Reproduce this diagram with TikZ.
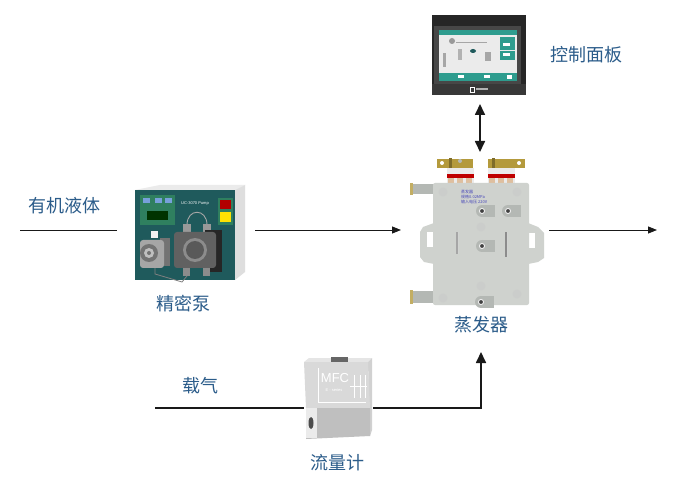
\documentclass[tikz,border=0pt]{standalone}
\usepackage{fontspec}
\setsansfont{Liberation Sans}
\newfontfamily\cjk{Noto Sans CJK SC}
\usetikzlibrary{arrows.meta}
\definecolor{lab}{HTML}{2B5C8A}
\definecolor{teal1}{HTML}{1F5A5C}
\definecolor{screenT}{HTML}{2E9C8E}
\definecolor{alu}{HTML}{CFD2CE}
\definecolor{alud}{HTML}{B4B8B4}
\definecolor{brass}{HTML}{B49A3C}
\definecolor{pgreen}{HTML}{2F7F5F}
\tikzset{
  lbl/.style={font=\cjk\fontsize{18pt}{20pt}\selectfont,text=lab,inner sep=0pt},
  device/.style={draw=none,fill=none,inner sep=0pt,minimum width=#1},
  thin line/.style={line width=0.9pt,black!90},
  thick line/.style={line width=1.7pt,black!90},
  tip/.style={-{Triangle[length=9pt,width=7pt]}},
  tipb/.style={-{Triangle[length=11pt,width=10pt]}},
  tips/.style={{Triangle[length=11pt,width=10pt]}-{Triangle[length=11pt,width=10pt]}},
  hole/.style={fill=alud!70!white,draw=none},
  port/.style={fill=black!75,draw=white,line width=0.8pt},
}
\begin{document}
\begin{tikzpicture}[x=1pt,y=-1pt]
\useasboundingbox (0,0) rectangle (675,481);
\fill[white] (0,0) rectangle (675,481);

% ---- control panel
\fill[black!85] (432,15) rectangle (526,95);
\fill[black!72] (434,26) rectangle (521,84);
\fill[black!78] (432,84) rectangle (526,95);
\fill[black!8] (439,30) rectangle (517,81);
\fill[screenT] (439,30) rectangle (517,35);
\fill[screenT] (439,73) rectangle (517,81);
\fill[screenT] (500,37) rectangle (515,50);
\fill[screenT] (500,51) rectangle (515,60);
\fill[white] (503,43) rectangle (510,46);
\fill[white] (503,53) rectangle (510,56);
\fill[white] (458,75.5) rectangle (464,78.5);
\fill[white] (484,75.5) rectangle (490,78.5);
\fill[white] (507,75) rectangle (512,79);
\fill[black!35] (443,53) rectangle (446,67);
\fill[black!40] (452,41) circle (3pt);
\fill[black!30] (458,49) rectangle (462,60);
\fill[teal1] (473,51) ellipse (3pt and 2pt);
\fill[black!35] (485,52) rectangle (491,61);
\draw[black!35,line width=.4pt] (456,42) -- (487,42);
\draw[white,line width=.6pt] (470,87) rectangle (474,92);
\fill[white!70!black] (476,88.5) rectangle (488,90.5);
\node[device=94pt,minimum height=80pt] (panel) at (479,55) {};
\node[lbl,anchor=west] (panellabel) at (550,55) {控制面板};

% ---- evaporator
% tubes
\fill[alud] (412,184) rectangle (434,194);
\fill[brass!80!white] (410,183) rectangle (413,195);
\fill[alud] (412,291) rectangle (434,303);
\fill[brass!80!white] (410,290) rectangle (413,304);
% ears
\fill[alu] (434,223) -- (423,227) -- (420,232) -- (420,257) -- (424,262) -- (434,264) -- cycle;
\fill[white] (427,232) rectangle (433,247);
\fill[alu] (528,223) -- (538,227) -- (544,233) -- (544,258) -- (538,262) -- (528,264) -- cycle;
\fill[white] (527,233) rectangle (535,248);
% terminal blocks
\foreach \x in {451,460,469,492,501,510}{
  \fill[black!8] (\x-4.5,168) rectangle (\x+4.5,183);
  \fill[red!75!black] (\x-4.5,174) rectangle (\x+4.5,178);
  \fill[brown!50!white] (\x-3,178) rectangle (\x+3,183);
}
\fill[brass] (437,159) rectangle (473,168);
\fill[brass] (488,159) rectangle (525,168);
\fill[brass!70!black] (449,158) rectangle (452,168);
\fill[brass!70!black] (492,158) rectangle (495,168);
\fill[white] (442,163) circle (2pt);
\fill[white] (519,163) circle (2pt);
\fill[alud] (460,161) circle (2pt);
% plate
\fill[alu,rounded corners=2pt] (433,183) rectangle (529,305);
\foreach \x/\y in {443/192,443/298,517/192,517/294,481/227,481/286}{\fill[hole] (\x,\y) circle (4.5pt);}
\fill[alud!60!white] (456,232) rectangle (459,254);
\fill[black!35] (456,232) rectangle (457.5,254);
\fill[alud!60!white] (505,232) rectangle (508,257);
\fill[black!45] (505,232) rectangle (506.5,257);
\foreach \x/\y in {482/211,508/211,482/246,481/302}{
  \fill[alud] (\x,\y-6) rectangle (\x+13,\y+6);
  \fill[alud] (\x,\y) circle (6pt);
  \fill[port] (\x,\y) circle (2.5pt);
}
\node[font=\cjk\fontsize{4pt}{5pt}\selectfont,text=blue!45!gray,align=left,inner sep=0pt,anchor=north west] (evaptext) at (461,190) {蒸发器\\规格0.02MPa\\输入电压 220V};
\node[device=96pt,minimum height=122pt] (evap) at (481,244) {};
\node[lbl] (evaplabel) at (481,325) {蒸发器};

% ---- pump
\fill[black!8] (135,190) -- (160,185) -- (245,185) -- (235,190) -- cycle;
\fill[black!13] (235,190) -- (245,185) -- (245,272) -- (235,280) -- cycle;
\fill[teal1] (135,190) rectangle (235,280);
\fill[pgreen] (140,195) rectangle (175,225);
\fill[cyan!50!blue!55!white] (143,198) rectangle (150,203);
\fill[cyan!50!blue!55!white] (155,198) rectangle (162,203);
\fill[cyan!50!blue!55!white] (165,198) rectangle (172,203);
\fill[black!80!green] (147,211) rectangle (168,220);
\fill[pgreen] (218,198) rectangle (233,225);
\fill[red!70!black] (220,200) rectangle (231,209);
\fill[yellow!85!orange] (220,212) rectangle (231,222);
\node[font=\sffamily\fontsize{4pt}{5pt}\selectfont,text=white,inner sep=0pt] (pumptext) at (195,204) {UC-3070 Pump};
\draw[black!35,line width=.9pt] (187,225) .. controls (187,208) and (207,208) .. (207,225);
\fill[black!40] (183,224) rectangle (191,232);
\fill[black!40] (203,224) rectangle (211,232);
\fill[black!85] (205,230) rectangle (222,272);
\fill[black!62,rounded corners=3pt] (174,232) rectangle (216,268);
\fill[black!45] (195,250) circle (12pt);
\fill[black!65] (195,250) circle (9pt);
\fill[black!45] (183,268) rectangle (190,276);
\fill[black!45] (203,268) rectangle (210,276);
\draw[black!50,line width=.8pt] (155,267) -- (155,274) -- (182,282) -- (187,276);
\fill[black!55] (160,238) rectangle (170,266);
\fill[black!5] (151,231) rectangle (158,238);
\fill[black!35,rounded corners=3pt] (140,240) rectangle (164,268);
\fill[black!55] (149,253) circle (9pt);
\fill[black!25] (149,253) circle (5pt);
\fill[black!55] (149,253) circle (2pt);
\node[device=110pt,minimum height=96pt] (pump) at (190,232) {};
\node[lbl] (pumplabel) at (183,304) {精密泵};
\node[lbl] (liquidlabel) at (64.5,206) {有机液体};

% ---- flow meter
\fill[black!10] (304,362) -- (309,358) -- (372,358) -- (368,362) -- cycle;
\fill[black!60] (331,357) rectangle (348,362);
\fill[black!18] (368,362) -- (372,358) -- (372,430) -- (370,436) -- cycle;
\fill[black!15] (304,362) -- (368,362) -- (370,408) -- (306,408) -- cycle;
\fill[black!25] (306,408) -- (370,408) -- (370,436) -- (306,439) -- cycle;
\fill[black!8] (306,408) rectangle (317,438);
\fill[black!70] (311,423) ellipse (2.5pt and 6pt);
\draw[white,line width=.6pt] (318,368) -- (318,402) -- (366,402);
\node[font=\sffamily\fontsize{13pt}{13pt}\selectfont,text=white,inner sep=0pt] (mfctext) at (335,378) {MFC};
\node[font=\sffamily\fontsize{4pt}{5pt}\selectfont,text=white,inner sep=0pt] (mfcseries) at (334,390) {E - series};
\foreach \x in {354,360,365}{\draw[white,line width=.4pt] (\x,375) -- (\x,398);}
\draw[white,line width=.4pt] (350,386) -- (367,386);
\node[device=68pt,minimum height=80pt] (mfc) at (338,399) {};
\node[lbl] (mfclabel) at (337,463) {流量计};
\node[lbl] (gaslabel) at (200,386) {载气};

% ---- connector ends
\coordinate (liquidin) at (20,230);
\coordinate (outend) at (657,230);
\coordinate (gasin) at (155,408);
\coordinate (evaplow) at (481,352);
\coordinate (panelbot) at (480,104);
\coordinate (evaptop) at (480,152);
\coordinate (pumpout) at (255,230);
\coordinate (evapin) at (401,230);
\coordinate (evapout) at (549,230);
\coordinate (pumpinend) at (117,230);
\coordinate (mfcleft) at (304,408);
\coordinate (mfcright) at (373,408);

\draw[thin line] (liquidin) -- (pumpinend);
\draw[thin line,tip] (pumpout) -- (evapin);
\draw[thin line,tip] (evapout) -- (outend);
\draw[thick line,tips] (panelbot) -- (evaptop);
\draw[thick line] (gasin) -- (mfcleft);
\draw[thick line,tipb] (mfcright) -| (evaplow);
\end{tikzpicture}
\end{document}
